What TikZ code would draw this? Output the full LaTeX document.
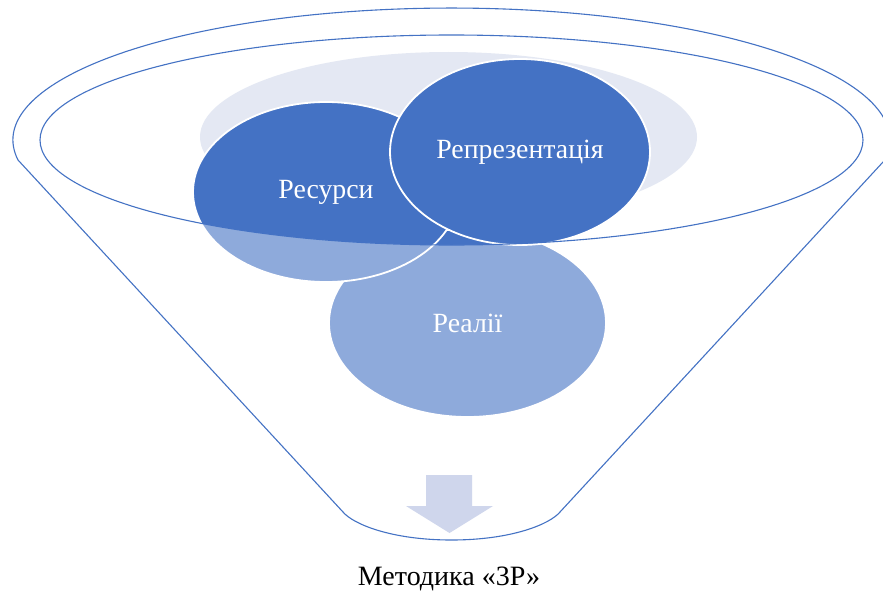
\documentclass[tikz,border=0pt]{standalone}
\usepackage{fontspec}
\setmainfont{Liberation Serif}
\definecolor{fblue}{HTML}{4472C4}
\definecolor{fgrey}{HTML}{E4E8F3}
\definecolor{farrow}{HTML}{CFD6EC}
\tikzset{
  bubble/.style={fill=fblue, draw=white, line width=1.8pt},
  btext/.style={text=white, font=\fontsize{27.8}{32}\selectfont, inner sep=0pt},
  outline/.style={draw=fblue, line width=1.1pt},
}
\begin{document}
\begin{tikzpicture}[x=1pt, y=1pt, yscale=-1]
\clip (0,0) rectangle (883,594);
\fill[white] (0,0) rectangle (883,594);
% background ellipse
\fill[fgrey] (448.5,137) ellipse [x radius=248.5, y radius=85];
% bubbles
\path[bubble] (467.5,323) ellipse [x radius=138.5, y radius=94];
\path[bubble] (326,192) ellipse [x radius=133, y radius=90];
\path[bubble] (520,152) ellipse [x radius=130, y radius=93];
% funnel body overlay (semi-transparent white, hole = inner ellipse)
\fill[white, fill opacity=0.4, even odd rule]
  (18,160) arc[start angle=171.3, end angle=368.7, x radius=438.5, y radius=132]
  -- (560,512) .. controls (550,524) and (512,540) .. (451.5,540)
  .. controls (391,540) and (353,524) .. (343,512) -- cycle
  (451.5,140) ellipse [x radius=411.5, y radius=105];
% funnel outlines
\draw[outline] (18,160) coordinate (fl) arc[start angle=171.3, end angle=368.7, x radius=438.5, y radius=132] coordinate (fr)
  -- (560,512) coordinate (br) .. controls (550,524) and (512,540) .. (451.5,540)
  .. controls (391,540) and (353,524) .. (343,512) coordinate (bl) -- cycle;
\draw[outline] (451.5,140) ellipse [x radius=411.5, y radius=105];
% labels
\node[btext] (res) at (326,192) {Ресурси};
\node[btext] (rep) at (520,152) {Репрезентація};
\node[btext] (real) at (467.5,323) {Реалії};
% arrow
\fill[farrow] (426,475) -- (472,475) -- (472,506) -- (493,506) -- (449.5,533) -- (406,506) -- (426,506) -- cycle;
% caption
\node[font=\fontsize{28}{32}\selectfont, inner sep=0pt] (cap) at (449,579) {Методика «3Р»};
\end{tikzpicture}
\end{document}
